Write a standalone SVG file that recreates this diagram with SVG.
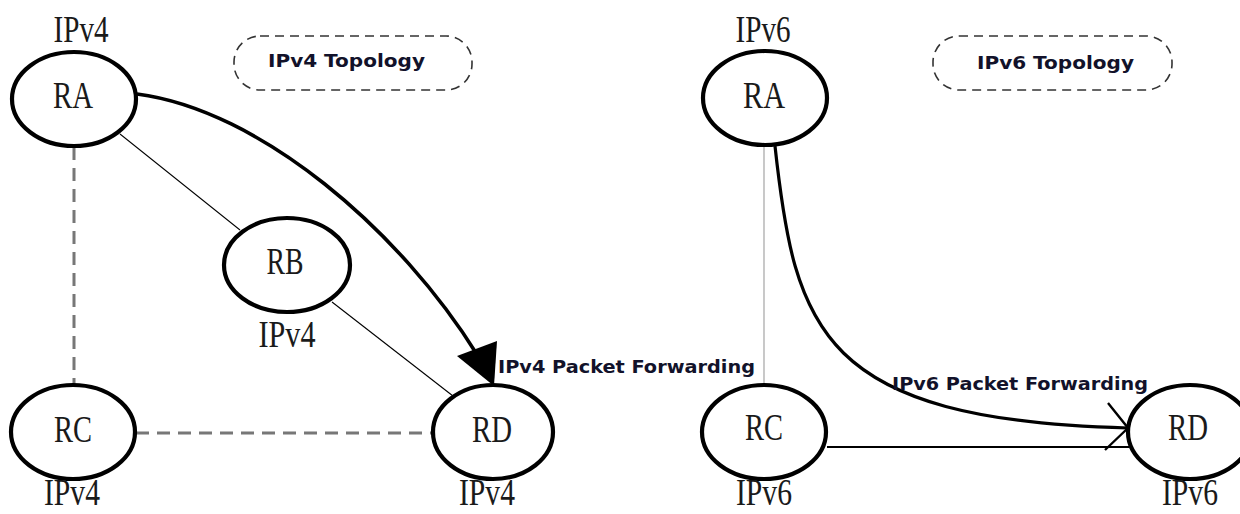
<svg xmlns="http://www.w3.org/2000/svg" width="1240" height="514" viewBox="0 0 1240 514">
<style>
.node ellipse{fill:#fff;stroke:#000;stroke-width:4.2}
.lbl{font-family:"Liberation Serif",serif;font-size:37px;fill:#1a1a1a;text-anchor:middle}
.ver{font-family:"Liberation Serif",serif;font-size:37px;fill:#1a1a1a;text-anchor:middle}
.topo rect{fill:none;stroke:#333;stroke-width:1.6;stroke-dasharray:9 6}
.bold{font-family:"DejaVu Sans",Verdana,sans-serif;font-weight:bold;fill:#12122a}
.thin{stroke:#000;stroke-width:1.1;fill:none}
.dash{stroke:#777;stroke-width:3;stroke-dasharray:13 8;fill:none}
.flow{stroke:#000;stroke-width:3.6;fill:none}
</style>
<rect width="1240" height="514" fill="#fff"/>
<g id="connectors">
  <line class="dash" x1="74" y1="147" x2="74" y2="386"/>
  <line class="dash" x1="136" y1="433" x2="432" y2="433"/>
  <line class="thin" x1="120" y1="134" x2="240" y2="230"/>
  <line class="thin" x1="332" y1="302" x2="453" y2="396"/>
  <path class="flow" d="M137,94 C260,110 400,230 478,356"/>
  <polygon points="457,356 497,341 494,386" fill="#000"/>
  <line x1="764" y1="146" x2="764" y2="385" stroke="#bbb" stroke-width="1.6"/>
  <line x1="827" y1="447" x2="1129" y2="447" stroke="#000" stroke-width="2"/>
  <path class="flow" d="M775,146 C795,330 820,420 1128,428" style="stroke-width:3.2"/>
  <polyline points="1108,403 1128,428 1105,450" fill="none" stroke="#000" stroke-width="2.4"/>
  <text class="bold" x="498" y="373" font-size="18.5" textLength="257" lengthAdjust="spacingAndGlyphs">IPv4 Packet Forwarding</text>
  <text class="bold" x="892" y="390" font-size="18.5" textLength="256" lengthAdjust="spacingAndGlyphs">IPv6 Packet Forwarding</text>
</g>
<g id="topo4" class="topo">
  <rect x="234" y="36" width="238" height="54" rx="26"/>
  <text class="bold" x="268" y="67" font-size="18" textLength="157" lengthAdjust="spacingAndGlyphs">IPv4 Topology</text>
</g>
<g id="topo6" class="topo">
  <rect x="933" y="36" width="239" height="54" rx="26"/>
  <text class="bold" x="977" y="69" font-size="18" textLength="157" lengthAdjust="spacingAndGlyphs">IPv6 Topology</text>
</g>
<g id="v4-RA" class="node">
  <text class="ver" x="81" y="42" textLength="55" lengthAdjust="spacingAndGlyphs">IPv4</text>
  <ellipse cx="74" cy="99" rx="62" ry="47"/>
  <text class="lbl" x="73" y="108" textLength="40" lengthAdjust="spacingAndGlyphs">RA</text>
</g>
<g id="v4-RB" class="node">
  <ellipse cx="287" cy="265" rx="63" ry="47"/>
  <text class="lbl" x="285" y="274" textLength="37" lengthAdjust="spacingAndGlyphs">RB</text>
  <text class="ver" x="287" y="347" textLength="57" lengthAdjust="spacingAndGlyphs" fill="#444">IPv4</text>
</g>
<g id="v4-RC" class="node">
  <ellipse cx="73" cy="432" rx="62" ry="47"/>
  <text class="lbl" x="73" y="442" textLength="38" lengthAdjust="spacingAndGlyphs">RC</text>
  <text class="ver" x="72" y="505" textLength="56" lengthAdjust="spacingAndGlyphs">IPv4</text>
</g>
<g id="v4-RD" class="node">
  <ellipse cx="493" cy="432" rx="60" ry="47"/>
  <text class="lbl" x="492" y="442" textLength="40" lengthAdjust="spacingAndGlyphs">RD</text>
  <text class="ver" x="487" y="505" textLength="56" lengthAdjust="spacingAndGlyphs">IPv4</text>
</g>
<g id="v6-RA" class="node">
  <text class="ver" x="763" y="42" textLength="55" lengthAdjust="spacingAndGlyphs">IPv6</text>
  <ellipse cx="765" cy="98" rx="62" ry="47"/>
  <text class="lbl" x="764" y="108" textLength="42" lengthAdjust="spacingAndGlyphs" fill="#444">RA</text>
</g>
<g id="v6-RC" class="node">
  <ellipse cx="764" cy="432" rx="62" ry="47"/>
  <text class="lbl" x="764" y="440" textLength="38" lengthAdjust="spacingAndGlyphs" fill="#333">RC</text>
  <text class="ver" x="764" y="505" textLength="56" lengthAdjust="spacingAndGlyphs">IPv6</text>
</g>
<g id="v6-RD" class="node">
  <ellipse cx="1190" cy="432" rx="62" ry="47"/>
  <text class="lbl" x="1188" y="440" textLength="40" lengthAdjust="spacingAndGlyphs" fill="#333">RD</text>
  <text class="ver" x="1190" y="505" textLength="56" lengthAdjust="spacingAndGlyphs">IPv6</text>
</g>
</svg>
